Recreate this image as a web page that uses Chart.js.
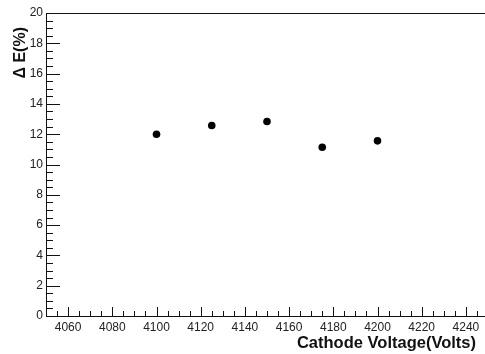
<!DOCTYPE html>
<html>
<head>
<meta charset="utf-8">
<script src="https://cdn.jsdelivr.net/npm/chart.js@4.4.1/dist/chart.umd.min.js"></script>
<style>
  html, body { margin: 0; padding: 0; background: #fff; overflow: hidden; }
  #wrap { width: 492px; height: 354px; }
</style>
</head>
<body>
<div id="wrap"><canvas id="grafica" width="492" height="354"></canvas></div>
<script>
// Datos
const voltajes = [4100, 4125, 4150, 4175, 4200]
const resolucion = [12.0, 12.57, 12.84, 11.14, 11.56]
const xTicks = [4060, 4080, 4100, 4120, 4140, 4160, 4180, 4200, 4220, 4240]
const yTicks = [0, 2, 4, 6, 8, 10, 12, 14, 16, 18, 20]
const xTitulo = 'Cathode Voltage(Volts)'
const yTitulo = '\u0394 E(%)'

const FONT = "'Liberation Sans', Arial, sans-serif"
const INK = '#111'

// Marcas estilo ROOT hacia dentro del marco + titulos de ejes
const marcasRoot = {
  id: 'marcasRoot',
  afterDraw(chart) {
    const ctx = chart.ctx
    const a = chart.chartArea
    const xs = chart.scales.x
    const ys = chart.scales.y
    ctx.save()
    ctx.strokeStyle = INK
    ctx.lineWidth = 1

    // marco superior
    ctx.beginPath()
    ctx.moveTo(a.left, Math.round(a.top) + 0.5)
    ctx.lineTo(a.right, Math.round(a.top) + 0.5)
    ctx.stroke()

    // eje x: mayores cada 20, menores cada 5
    ctx.beginPath()
    for (let v = xs.min; v <= xs.max; v += 5) {
      const px = Math.round(xs.getPixelForValue(v)) + 0.5
      const len = (v % 20 === 0) ? 9 : 5
      ctx.moveTo(px, a.bottom)
      ctx.lineTo(px, a.bottom - len)
    }
    // eje y: mayores cada 2, menores cada 0.5
    for (let i = 0; i <= 40; i++) {
      const v = i * 0.5
      const py = Math.round(ys.getPixelForValue(v)) + 0.5
      const len = (i % 4 === 0) ? 14 : 7
      ctx.moveTo(a.left, py)
      ctx.lineTo(a.left + len, py)
    }
    ctx.stroke()

    // titulos
    ctx.fillStyle = INK
    ctx.font = 'bold 16.5px ' + FONT
    ctx.textAlign = 'right'
    ctx.textBaseline = 'alphabetic'
    ctx.fillText(xTitulo, 476, 348)

    ctx.translate(25, 27)
    ctx.rotate(-Math.PI / 2)
    ctx.font = 'bold 16px ' + FONT
    ctx.textAlign = 'right'
    ctx.fillText(yTitulo, 0, 0)
    ctx.restore()
  }
}

new Chart(document.getElementById('grafica'), {
  type: 'scatter',
  data: {
    datasets: [{
      label: 'Delta E',
      data: voltajes.map(function(v, i) { return { x: v, y: resolucion[i] } }),
      backgroundColor: '#000',
      borderColor: '#000',
      pointRadius: 3.8,
      pointHoverRadius: 3.8,
      pointBorderWidth: 0,
    }]
  },
  options: {
    responsive: false,
    animation: false,
    events: [],
    layout: { padding: { top: 13, right: 4, left: 0, bottom: 0 } },
    plugins: { legend: { display: false }, tooltip: { enabled: false } },
    scales: {
      x: {
        type: 'linear',
        min: 4050,
        max: 4250,
        afterFit(scale) { scale.height = 38 },
        afterBuildTicks(scale) { scale.ticks = xTicks.map(function(v) { return { value: v } }) },
        grid: { display: true, drawOnChartArea: false, drawTicks: false },
        border: { display: true, color: INK, width: 1 },
        ticks: {
          color: '#222', padding: 4, maxRotation: 0, autoSkip: false,
          font: { family: FONT, size: 12 },
          callback: function(v) { return String(v) }
        },
      },
      y: {
        min: 0,
        max: 20,
        afterFit(scale) { scale.width = 46 },
        afterBuildTicks(scale) { scale.ticks = yTicks.map(function(v) { return { value: v } }) },
        grid: { display: true, drawOnChartArea: false, drawTicks: false },
        border: { display: true, color: INK, width: 1 },
        ticks: {
          color: '#222', padding: 3, autoSkip: false,
          font: { family: FONT, size: 12 },
          callback: function(v) { return String(v) }
        },
      }
    }
  },
  plugins: [marcasRoot]
})
</script>
</body>
</html>
